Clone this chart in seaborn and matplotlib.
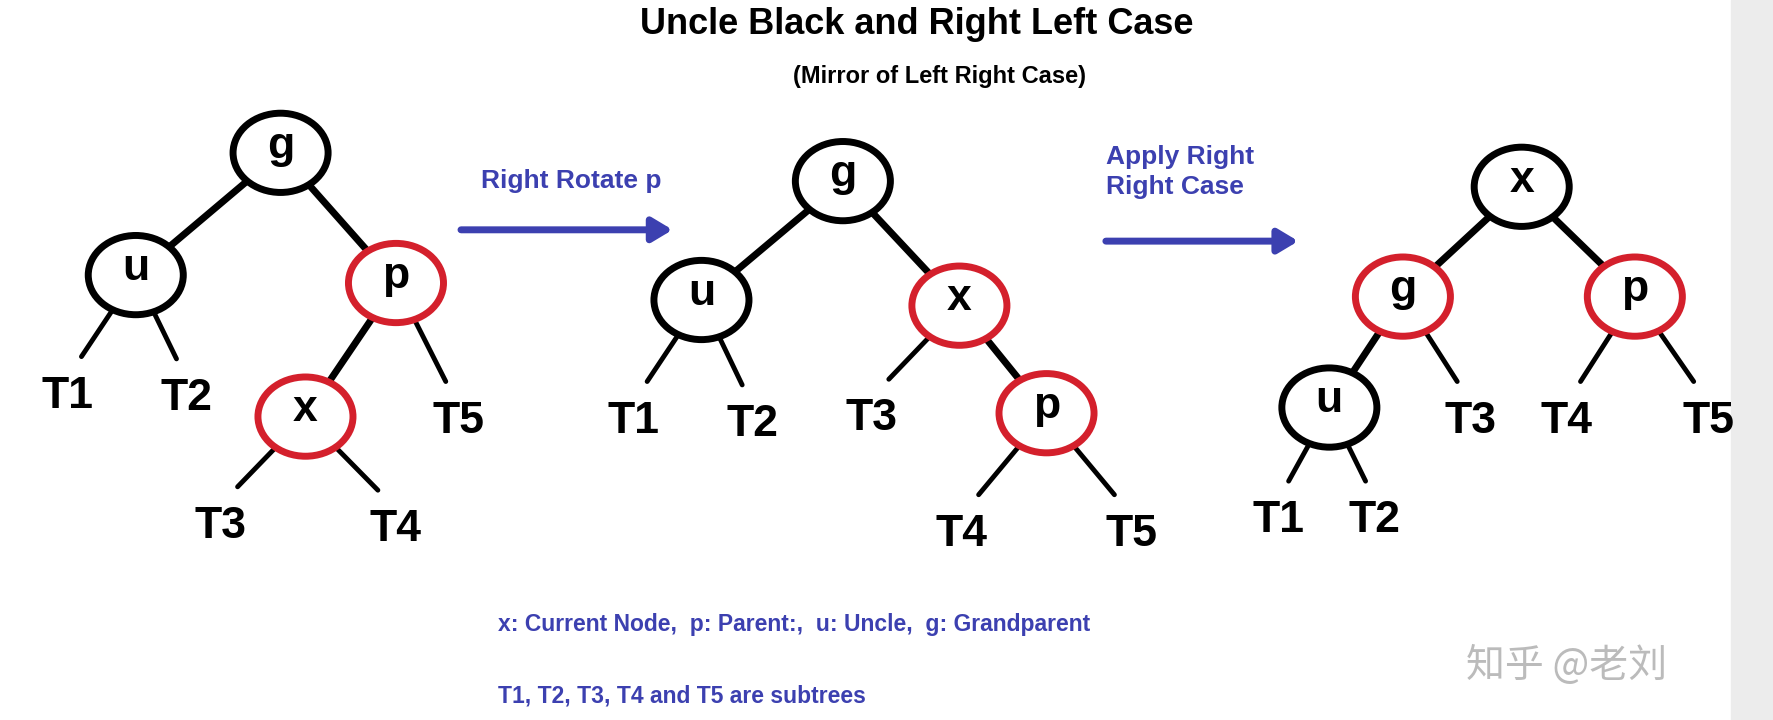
import matplotlib.pyplot as plt
import seaborn as sns
from matplotlib.patches import Ellipse

sns.set_theme(style="white")
plt.rcParams['font.family'] = ['Liberation Sans', 'Noto Sans CJK SC', 'DejaVu Sans']
plt.rcParams['text.color'] = 'black'

# three trees: node labels, centres (reference pixel space), ring colour
node_names = [["g", "u", "p", "x"], ["g", "u", "x", "p"], ["x", "g", "p", "u"]]
node_x = [[248, 120, 350, 270], [745, 620, 848, 925], [1345, 1240, 1445, 1175]]
node_y = [[135, 243, 250, 368], [160, 265, 270, 365], [165, 262, 262, 360]]
node_red = [[False, False, True, True], [False, False, True, True], [False, True, True, False]]
# edges between nodes (index pairs)
node_edges = [[(0, 1), (0, 2), (2, 3)], [(0, 1), (0, 2), (2, 3)], [(0, 1), (0, 2), (1, 3)]]

# subtrees: label, position, parent node index
leaf_names = [["T1", "T2", "T3", "T4", "T5"]] * 3
leaf_x = [[60, 165, 195, 350, 405], [560, 665, 770, 850, 1000], [1130, 1215, 1300, 1385, 1510]]
leaf_y = [[350, 352, 465, 468, 372], [372, 375, 370, 472, 472], [460, 460, 372, 372, 372]]
leaf_parent = [[1, 1, 3, 3, 2], [1, 1, 2, 3, 3], [3, 3, 1, 2, 2]]

blue = "#3C40B0"
red = "#D4202C"

fig, ax = plt.subplots(figsize=(17.74, 7.2), dpi=100)
fig.subplots_adjust(0, 0, 1, 1)
ax.set_xlim(0, 1568)
ax.set_ylim(636, 0)
ax.axis("off")
ax.axvspan(1530, 1568, color="#ECECEC", zorder=0)

for t in range(3):
    xs, ys = node_x[t], node_y[t]
    for a, b in node_edges[t]:
        ax.plot([xs[a], xs[b]], [ys[a], ys[b]], color="black", lw=5, zorder=1)
    for name, lx, ly, par in zip(leaf_names[t], leaf_x[t], leaf_y[t], leaf_parent[t]):
        px, py = xs[par], ys[par]
        ex = lx + (px - lx) * 0.2
        ey = ly - 35
        ax.plot([px, ex], [py, ey], color="black", lw=3.5, zorder=1)
        ax.text(lx, ly, name, fontsize=32, fontweight="bold", ha="center", va="center")
    for name, x, y, r in zip(node_names[t], xs, ys, node_red[t]):
        ax.add_patch(Ellipse((x, y), 84, 70, facecolor="white",
                             edgecolor=red if r else "black", lw=5, zorder=2))
        ax.text(x, y - 6, name, fontsize=32, fontweight="bold", ha="center", va="center", zorder=3)

arrows = [(405, 597, 203), (975, 1150, 213)]
for x0, x1, y in arrows:
    ax.annotate("", xy=(x1, y), xytext=(x0, y),
                arrowprops=dict(arrowstyle="-|>,head_length=1.0,head_width=0.6", color=blue, lw=5))

ax.text(810, 22, "Uncle Black and Right Left Case", fontsize=26, fontweight="bold", ha="center", va="center")
ax.text(830, 68, "(Mirror of Left Right Case)", fontsize=17, fontweight="bold", ha="center", va="center")
ax.text(505, 160, "Right Rotate p", fontsize=19, fontweight="bold", color=blue, ha="center", va="center")
ax.text(978, 152, "Apply Right\nRight Case", fontsize=19, fontweight="bold", color=blue,
        ha="left", va="center", linespacing=1.3)
ax.text(440, 552, "x: Current Node,  p: Parent:,  u: Uncle,  g: Grandparent", fontsize=16.5,
        fontweight="bold", color=blue, ha="left", va="center")
ax.text(440, 615, "T1, T2, T3, T4 and T5 are subtrees", fontsize=16.5,
        fontweight="bold", color=blue, ha="left", va="center")
ax.text(1385, 588, "知乎 @老刘", fontsize=28, color="#BBBBBB", ha="center", va="center",
        family=['Noto Sans CJK SC', 'DejaVu Sans'])

fig.savefig("out.png", dpi=100)
